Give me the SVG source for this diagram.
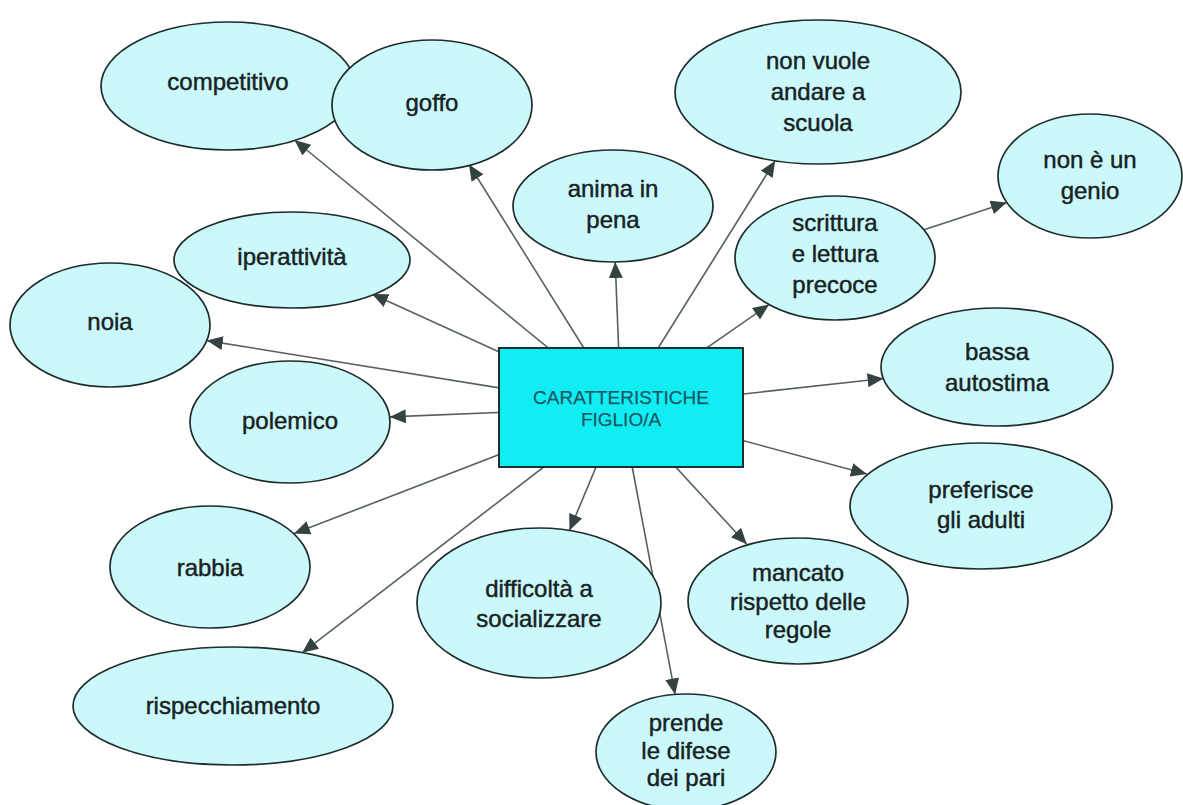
<svg xmlns="http://www.w3.org/2000/svg" width="1183" height="805" viewBox="0 0 1183 805">
  <style>
    .node ellipse { fill: #cbf9fb; stroke: #1f2c2c; stroke-width: 1.7; }
    .node text { font-family: "Liberation Sans", Arial, sans-serif; font-size: 24px; fill: #182222; stroke: #182222; stroke-width: 0.45; text-anchor: middle; }
    .edge { stroke: #566060; stroke-width: 1.6; fill: none; marker-end: url(#arrow); }
    #center rect { fill: #10eef4; stroke: #1c3030; stroke-width: 2; }
    #center text { font-family: "Liberation Sans", Arial, sans-serif; font-size: 19px; fill: #1b5866; stroke: #1b5866; stroke-width: 0.25; text-anchor: middle; }
  </style>
  <defs>
    <marker id="arrow" markerUnits="userSpaceOnUse" markerWidth="17" markerHeight="14" refX="16" refY="7" orient="auto">
      <path d="M0,0 L16,7 L0,14 z" fill="#344242"/>
    </marker>
  </defs>
  <rect width="1183" height="805" fill="#ffffff"/>

  <!-- connectors: centre box to each trait, plus one trait-to-trait link -->
  <g id="connectors">
    <line class="edge" x1="621" y1="407.5" x2="294.5" y2="140"/>
    <line class="edge" x1="621" y1="407.5" x2="469" y2="164.5"/>
    <line class="edge" x1="621" y1="407.5" x2="615.2" y2="262"/>
    <line class="edge" x1="621" y1="407.5" x2="775.2" y2="160.7"/>
    <line class="edge" x1="621" y1="407.5" x2="769.1" y2="304.6"/>
    <line class="edge" x1="621" y1="407.5" x2="372" y2="294"/>
    <line class="edge" x1="621" y1="407.5" x2="206.8" y2="340.6"/>
    <line class="edge" x1="621" y1="407.5" x2="389.8" y2="416.9"/>
    <line class="edge" x1="621" y1="407.5" x2="294.1" y2="533.6"/>
    <line class="edge" x1="621" y1="407.5" x2="302.2" y2="652.8"/>
    <line class="edge" x1="621" y1="407.5" x2="569.5" y2="530.4"/>
    <line class="edge" x1="621" y1="407.5" x2="675.1" y2="694.4"/>
    <line class="edge" x1="621" y1="407.5" x2="746.8" y2="544.3"/>
    <line class="edge" x1="621" y1="407.5" x2="866.8" y2="474.1"/>
    <line class="edge" x1="621" y1="407.5" x2="883.6" y2="378.5"/>
    <line class="edge" x1="924" y1="229.7" x2="1006.8" y2="202.4"/>
  </g>

  <g id="center">
    <rect x="499" y="348" width="244" height="119"/>
    <text x="621" y="404">CARATTERISTICHE</text>
    <text x="621" y="426">FIGLIO/A</text>
  </g>

  <g id="competitivo" class="node">
    <ellipse cx="228" cy="86" rx="127" ry="64"/>
    <text x="228" y="90">competitivo</text>
  </g>
  <g id="goffo" class="node">
    <ellipse cx="432" cy="105" rx="100" ry="65"/>
    <text x="432" y="111">goffo</text>
  </g>
  <g id="non-vuole-andare-a-scuola" class="node">
    <ellipse cx="818" cy="92" rx="143" ry="72"/>
    <text x="818" y="69">non vuole</text>
    <text x="818" y="100">andare a</text>
    <text x="818" y="131">scuola</text>
  </g>
  <g id="anima-in-pena" class="node">
    <ellipse cx="613" cy="206" rx="100" ry="56"/>
    <text x="613" y="197">anima in</text>
    <text x="613" y="228">pena</text>
  </g>
  <g id="non-e-un-genio" class="node">
    <ellipse cx="1090" cy="176" rx="92" ry="62"/>
    <text x="1090" y="168">non è un</text>
    <text x="1090" y="199">genio</text>
  </g>
  <g id="scrittura-e-lettura-precoce" class="node">
    <ellipse cx="835" cy="258" rx="100" ry="62"/>
    <text x="835" y="231">scrittura</text>
    <text x="835" y="262">e lettura</text>
    <text x="835" y="293">precoce</text>
  </g>
  <g id="noia" class="node">
    <ellipse cx="110" cy="325" rx="100" ry="62"/>
    <text x="110" y="330">noia</text>
  </g>
  <g id="iperattivita" class="node">
    <ellipse cx="292" cy="260" rx="118" ry="48"/>
    <text x="292" y="265">iperattività</text>
  </g>
  <g id="bassa-autostima" class="node">
    <ellipse cx="997" cy="367" rx="116" ry="59"/>
    <text x="997" y="360">bassa</text>
    <text x="997" y="391">autostima</text>
  </g>
  <g id="polemico" class="node">
    <ellipse cx="290" cy="422" rx="100" ry="61"/>
    <text x="290" y="429">polemico</text>
  </g>
  <g id="preferisce-gli-adulti" class="node">
    <ellipse cx="981" cy="506" rx="131" ry="63"/>
    <text x="981" y="498">preferisce</text>
    <text x="981" y="528">gli adulti</text>
  </g>
  <g id="rabbia" class="node">
    <ellipse cx="210" cy="567" rx="100" ry="61"/>
    <text x="210" y="576">rabbia</text>
  </g>
  <g id="difficolta-a-socializzare" class="node">
    <ellipse cx="539" cy="603" rx="122" ry="75"/>
    <text x="539" y="597">difficoltà a</text>
    <text x="539" y="627">socializzare</text>
  </g>
  <g id="mancato-rispetto-delle-regole" class="node">
    <ellipse cx="798" cy="601" rx="110" ry="63"/>
    <text x="798" y="581">mancato</text>
    <text x="798" y="610">rispetto delle</text>
    <text x="798" y="638">regole</text>
  </g>
  <g id="rispecchiamento" class="node">
    <ellipse cx="233" cy="706" rx="160" ry="59"/>
    <text x="233" y="714">rispecchiamento</text>
  </g>
  <g id="prende-le-difese-dei-pari" class="node">
    <ellipse cx="686" cy="752" rx="90" ry="58"/>
    <text x="686" y="731">prende</text>
    <text x="686" y="759">le difese</text>
    <text x="686" y="786">dei pari</text>
  </g>
</svg>
